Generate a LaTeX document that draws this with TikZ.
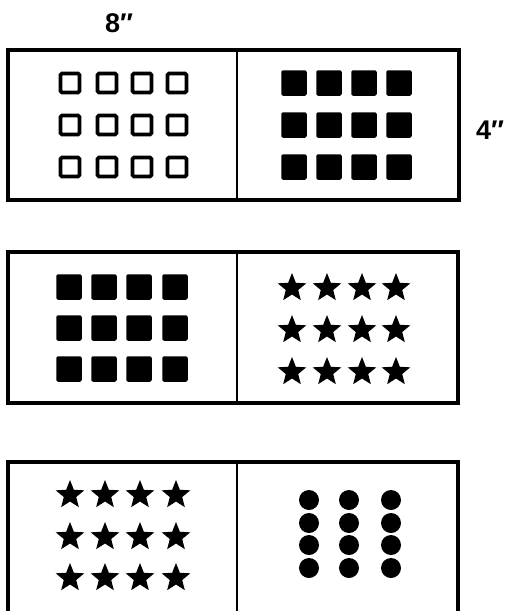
\documentclass[tikz,border=0pt]{standalone}
\usepackage{fontspec}
\setmainfont{Liberation Sans}
\usetikzlibrary{shapes.geometric}
\begin{document}
\begin{tikzpicture}[x=1pt,y=-1pt,
  frame/.style={line width=3.2pt},
  divider/.style={line width=2pt},
  osq/.style={draw,line width=3.6pt,minimum size=19pt,inner sep=0pt,rounded corners=1.5pt},
  fsq/.style={fill,minimum size=25.5pt,inner sep=0pt,rounded corners=2pt},
  fstar/.style={star,star points=5,star point ratio=2.3,fill,minimum size=30pt,inner sep=0pt},
  fdot/.style={circle,fill,minimum size=20pt,inner sep=0pt},
  lbl/.style={font=\bfseries\fontsize{27}{30}\selectfont}]
\useasboundingbox (0,0) rectangle (508,611);
% text
\node[lbl] (w) at (119,23) {8″};
\node[lbl] (h) at (490,130) {4″};
% box 1
\draw[frame] (8,50) rectangle (459,200);
\draw[divider] (237,50) -- (237,200);
\foreach \x in {70,107,142,177}
  \foreach \y in {83,125,167}
    \node[osq] at (\x,\y) {};
\foreach \x in {294,329,364,399}
  \foreach \y in {83,125,167}
    \node[fsq] at (\x,\y) {};
% box 2
\draw[frame] (8,252) rectangle (458,403);
\draw[divider] (237,252) -- (237,403);
\foreach \x in {69,104,139,175}
  \foreach \y in {287,328,369}
    \node[fsq] at (\x,\y) {};
\foreach \x in {292,327,362,396}
  \foreach \y in {288,330,372}
    \node[fstar] at (\x,\y) {};
% box 3 (cut off at bottom)
\draw[frame] (8,611) -- (8,462) -- (458,462) -- (458,611);
\draw[divider] (237,462) -- (237,611);
\foreach \x in {70,105,140,176}
  \foreach \y in {495,537,578}
    \node[fstar] at (\x,\y) {};
\foreach \x in {309,349,391}
  \foreach \y in {500,523,545,568}
    \node[fdot] at (\x,\y) {};
\end{tikzpicture}
\end{document}
